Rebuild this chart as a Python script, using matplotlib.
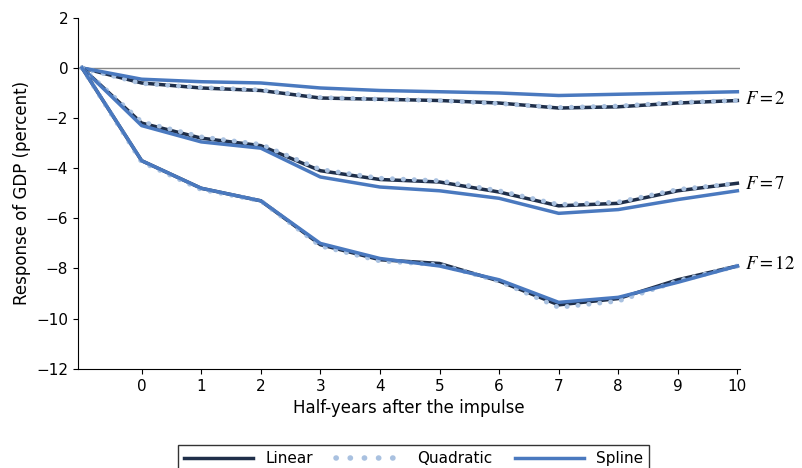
import matplotlib.pyplot as plt
from matplotlib.lines import Line2D

plt.rcParams["mathtext.fontset"] = "stix"

x = [-1, 0, 1, 2, 3, 4, 5, 6, 7, 8, 9, 10]

lin_f2 = [0, -0.6, -0.8, -0.9, -1.2, -1.25, -1.3, -1.4, -1.6, -1.55, -1.4, -1.3]
quad_f2 = [0, -0.62, -0.78, -0.88, -1.18, -1.25, -1.3, -1.42, -1.58, -1.52, -1.38, -1.3]
spl_f2 = [0, -0.45, -0.55, -0.6, -0.8, -0.9, -0.95, -1.0, -1.1, -1.05, -1.0, -0.95]

lin_f7 = [0, -2.2, -2.8, -3.1, -4.1, -4.45, -4.55, -4.95, -5.5, -5.4, -4.9, -4.6]
quad_f7 = [0, -2.15, -2.75, -3.05, -4.05, -4.4, -4.5, -4.9, -5.45, -5.35, -4.85, -4.6]
spl_f7 = [0, -2.3, -2.95, -3.2, -4.35, -4.75, -4.9, -5.2, -5.8, -5.65, -5.25, -4.9]

lin_f12 = [0, -3.7, -4.8, -5.3, -7.05, -7.65, -7.8, -8.5, -9.45, -9.2, -8.45, -7.9]
quad_f12 = [0, -3.75, -4.85, -5.3, -7.1, -7.7, -7.85, -8.5, -9.55, -9.3, -8.5, -7.9]
spl_f12 = [0, -3.7, -4.8, -5.3, -7.0, -7.6, -7.9, -8.45, -9.35, -9.15, -8.55, -7.9]

f_values = ["2", "7", "12"]
label_y = [-1.2, -4.6, -7.8]

fig, ax = plt.subplots(figsize=(8.03, 4.68), dpi=100)
fig.subplots_adjust(left=0.097, right=0.922, top=0.962, bottom=0.212)

ax.axhline(0, color="#888888", lw=1)
lin_c = "#1f2f4a"
quad_c = "#a9c1e0"
spl_c = "#4a79bf"
dot = (0, (0.05, 2.2))
for lin, quad, spl in [(lin_f2, quad_f2, spl_f2), (lin_f7, quad_f7, spl_f7), (lin_f12, quad_f12, spl_f12)]:
    ax.plot(x, lin, color=lin_c, lw=2.5)
    ax.plot(x, quad, color=quad_c, lw=3.5, ls=dot, dash_capstyle="round")
    ax.plot(x, spl, color=spl_c, lw=2.5)

for f, yy in zip(f_values, label_y):
    ax.text(10.12, yy, r"$F = %s$" % f, fontsize=13.5, va="center")

ax.set_xlim(-1.07, 10.05)
ax.set_ylim(-12, 2)
ax.set_xticks(range(0, 11))
ax.set_yticks(range(-12, 3, 2))
ax.set_yticklabels([str(v).replace("-", "\u2212") for v in range(-12, 3, 2)])
ax.tick_params(labelsize=11)
ax.spines["top"].set_visible(False)
ax.spines["right"].set_visible(False)
ax.set_xlabel("Half-years after the impulse", fontsize=12)
ax.set_ylabel("Response of GDP (percent)", fontsize=12)

handles = [Line2D([], [], color=lin_c, lw=2.5),
           Line2D([], [], color=quad_c, lw=4, ls=(0, (0.05, 2.5)), dash_capstyle="round"),
           Line2D([], [], color=spl_c, lw=2.5)]
leg = fig.legend(handles, ["Linear", "Quadratic", "Spline"], loc="lower center",
                 bbox_to_anchor=(0.515, -0.025), ncol=3, fontsize=11, frameon=True,
                 fancybox=False, edgecolor="black", handlelength=4.5, columnspacing=1.5)
leg.get_frame().set_linewidth(1)

fig.savefig("out.png", dpi=100)
